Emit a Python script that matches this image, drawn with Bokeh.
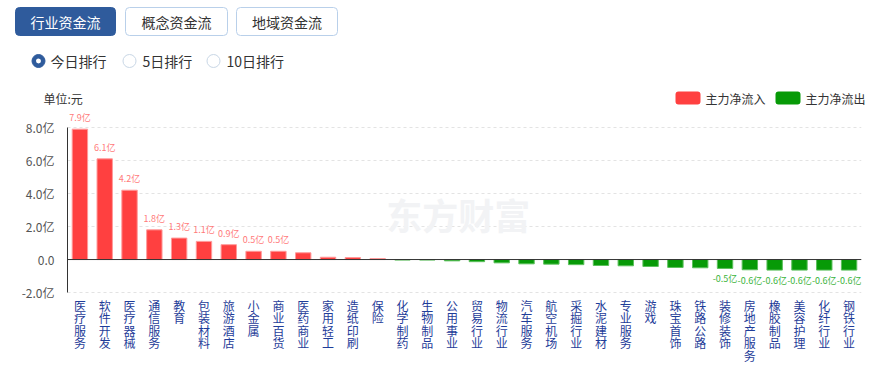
from bokeh.plotting import figure
from bokeh.layouts import column
from bokeh.models import (ColumnDataSource, FactorRange, Range1d, FixedTicker, Span, LabelSet, Label)
from bokeh.core.properties import value
from bokeh.embed import file_html
from bokeh.resources import INLINE

# ---------------- data ----------------
categories = ["医疗服务", "软件开发", "医疗器械", "通信服务", "教育", "包装材料", "旅游酒店", "小金属",
              "商业百货", "医药商业", "家用轻工", "造纸印刷", "保险", "化学制药", "生物制品", "公用事业",
              "贸易行业", "物流行业", "汽车服务", "航空机场", "采掘行业", "水泥建材", "专业服务", "游戏",
              "珠宝首饰", "铁路公路", "装修装饰", "房地产服务", "橡胶制品", "美容护理", "化纤行业", "钢铁行业"]
net_flow = [7.9, 6.1, 4.2, 1.8, 1.3, 1.1, 0.9, 0.5, 0.5, 0.41, 0.14, 0.12, 0.06, -0.03, -0.03, -0.08,
            -0.13, -0.2, -0.26, -0.28, -0.31, -0.36, -0.38, -0.42, -0.48, -0.5, -0.54, -0.62, -0.64,
            -0.64, -0.64, -0.64]
n_top_labels = 9
n_bottom_labels = 6
y_ticks = [-2, 0, 2, 4, 6, 8]
y_tick_labels = ["-2.0亿", "0.0", "2.0亿", "4.0亿", "6.0亿", "8.0亿"]
tabs = ["行业资金流", "概念资金流", "地域资金流"]
radios = ["今日排行", "5日排行", "10日排行"]
legend_names = ["主力净流入", "主力净流出"]
unit_text = "单位:元"
watermark = "东方财富"

RED = "#ff4040"
GREEN = "#079a07"
BLUE = "#2f5b9c"
FONT = "Noto Sans CJK SC"
W = 879

# ---------------- top controls ----------------
top = figure(width=W, height=108, x_range=Range1d(0, W), y_range=Range1d(108, 0),
             output_backend="svg", toolbar_location=None, min_border=0)
top.axis.visible = False
top.grid.visible = False
top.outline_line_color = None
top.frame_align = False

tab_left = [15, 125, 236]
tab_right = [115, 227, 337]
top.quad(left=tab_left, right=tab_right, top=[7, 7, 7], bottom=[35, 35, 35],
         fill_color=[BLUE, "white", "white"], line_color=[BLUE, "#b9d0ea", "#b9d0ea"],
         line_width=1, border_radius=4)
top.text(x=[(a + b) / 2 for a, b in zip(tab_left, tab_right)], y=[21] * 3, text=tabs,
         text_align="center", text_baseline="middle", text_font_size="14px",
         text_color=["white", "#333333", "#333333"], text_font=value(FONT))

rx = [38, 129, 213]
top.scatter(x=rx, y=[60.5] * 3, size=13, fill_color=[BLUE, "white", "white"],
            line_color=[BLUE, "#c9d7e6", "#c9d7e6"], line_width=1)
top.scatter(x=rx[:1], y=[60.5], size=5, fill_color="white", line_color=None)
top.text(x=[50, 142, 226], y=[60.5] * 3, text=radios, text_align="left", text_baseline="middle",
         text_font_size="14px", text_color="#333333", text_font=value(FONT))

top.text(x=[43], y=[97.5], text=[unit_text], text_align="left", text_baseline="middle",
         text_font_size="12px", text_color="#333333", text_font=value(FONT))
top.quad(left=[675, 775], right=[700, 800], top=[91, 91], bottom=[104, 104],
         fill_color=[RED, GREEN], line_color=None, border_radius=3)
top.text(x=[705, 805], y=[97.5, 97.5], text=legend_names, text_align="left", text_baseline="middle",
         text_font_size="12px", text_color="#333333", text_font=value(FONT))

# ---------------- chart ----------------
p = figure(width=W, height=257, x_range=FactorRange(factors=categories),
           y_range=Range1d(-6.42, 9.03), output_backend="svg", toolbar_location=None,
           min_border_left=67, min_border_right=18, min_border_top=2, min_border_bottom=0)
p.frame_align = False
p.outline_line_color = None
p.xgrid.visible = False
p.xaxis.visible = False
p.ygrid.ticker = FixedTicker(ticks=y_ticks)
p.ygrid.grid_line_color = "#e3e3e3"
p.ygrid.grid_line_dash = "3 3"

p.yaxis.ticker = FixedTicker(ticks=y_ticks)
p.yaxis.major_label_overrides = {t: l for t, l in zip(y_ticks, y_tick_labels)}
p.yaxis.bounds = (-2, 8)
p.yaxis.axis_line_color = "#333333"
p.yaxis.major_tick_line_color = None
p.yaxis.minor_tick_line_color = None
p.yaxis.major_label_text_font_size = "12px"
p.yaxis.major_label_text_color = "#555555"
p.yaxis.major_label_text_font = FONT
p.yaxis.major_label_standoff = 7

wm = Label(x=15.75, y=2.73, text=watermark, text_align="center", text_baseline="middle",
           text_font_size="36px", text_font_style="bold", text_color="#f2f3f5", text_font=FONT)
p.add_layout(wm)

n = len(categories)
pos_idx = [i for i in range(n) if net_flow[i] >= 0]
neg_idx = [i for i in range(n) if net_flow[i] < 0]
pos_src = ColumnDataSource(dict(x=[categories[i] for i in pos_idx], top=[net_flow[i] for i in pos_idx]))
neg_src = ColumnDataSource(dict(x=[categories[i] for i in neg_idx], top=[net_flow[i] for i in neg_idx]))
p.vbar(x="x", top="top", bottom=0, width=0.62, source=pos_src, fill_color=RED,
       line_color="#ff9a9a", line_width=1)
p.vbar(x="x", top="top", bottom=0, width=0.62, source=neg_src, fill_color=GREEN,
       line_color="#5cc05c", line_width=1)

zero = Span(location=0, dimension="width", line_color="#333333", line_width=1)
p.add_layout(zero)

# category labels (vertical, one character per line) under the chart
cat_src = ColumnDataSource(dict(x=categories, y=[y_ticks[0]] * n, t=["\n".join(c) for c in categories]))
p.text(x="x", y="y", text="t", source=cat_src, y_offset=4, text_align="center", text_baseline="top",
       text_font_size="12px", text_line_height=0.74, text_color="#1f3d99", text_font=value(FONT))

top_lab = ColumnDataSource(dict(x=categories[:n_top_labels], y=net_flow[:n_top_labels],
                                t=["%.1f亿" % v for v in net_flow[:n_top_labels]]))
bot_lab = ColumnDataSource(dict(x=categories[-n_bottom_labels:], y=net_flow[-n_bottom_labels:],
                                t=["%.1f亿" % v for v in net_flow[-n_bottom_labels:]]))
p.add_layout(LabelSet(x="x", y="y", text="t", source=top_lab, y_offset=5, text_align="center",
                      text_baseline="bottom", text_font_size="9px", text_color="#ff7a7a",
                      text_font=value(FONT)))
p.add_layout(LabelSet(x="x", y="y", text="t", source=bot_lab, y_offset=-4, text_align="center",
                      text_baseline="top", text_font_size="9px", text_color="#3cb43c",
                      text_font=value(FONT)))

layout = column(top, p, spacing=0)
open("out.html", "w").write(file_html(layout, INLINE))
